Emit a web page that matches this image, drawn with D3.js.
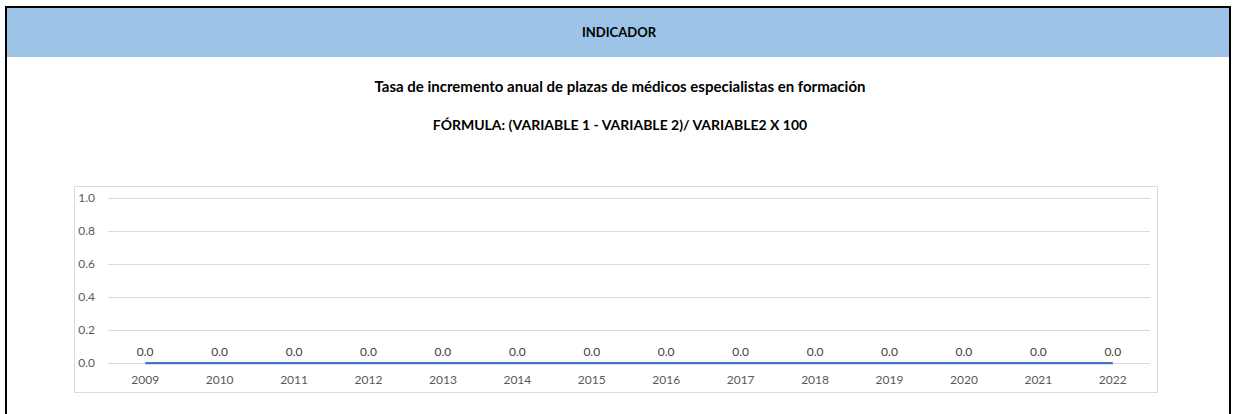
<!DOCTYPE html>
<html>
<head>
<meta charset="utf-8">
<script src="https://cdn.jsdelivr.net/npm/d3@7"></script>
<style>
  body { margin: 0; background: #fff; }
  svg { display: block; font-family: Lato, "Noto Sans", sans-serif; }
</style>
</head>
<body>
<svg id="chart" width="1235" height="414"></svg>
<script>
// chart data
const years = ["2009", "2010", "2011", "2012", "2013", "2014", "2015", "2016", "2017", "2018", "2019", "2020", "2021", "2022"];
const tasa = [0, 0, 0, 0, 0, 0, 0, 0, 0, 0, 0, 0, 0, 0];
const yTicks = [0, 0.2, 0.4, 0.6, 0.8, 1.0];

const headerText = "INDICADOR";
const titleText = "Tasa de incremento anual de plazas de médicos especialistas en formación";
const formulaText = "FÓRMULA: (VARIABLE 1 - VARIABLE 2)/ VARIABLE2 X 100";

const svg = d3.select("#chart");

// outer frame + header band
svg.append("rect")
    .attr("x", 6).attr("y", 7)
    .attr("width", 1224).attr("height", 420)
    .attr("fill", "none")
    .attr("stroke", "#000")
    .attr("stroke-width", 2);

svg.append("rect")
    .attr("x", 7).attr("y", 8)
    .attr("width", 1222).attr("height", 49)
    .attr("fill", "#9dc3e6");

svg.append("text")
    .attr("x", 619).attr("y", 37)
    .attr("text-anchor", "middle")
    .attr("font-size", "13px")
    .attr("font-weight", "bold")
    .attr("fill", "#000")
    .text(headerText);

svg.append("text")
    .attr("x", 620).attr("y", 92)
    .attr("text-anchor", "middle")
    .attr("font-size", "15px")
    .attr("font-weight", "bold")
    .attr("fill", "#000")
    .text(titleText);

svg.append("text")
    .attr("x", 620).attr("y", 130)
    .attr("text-anchor", "middle")
    .attr("font-size", "14px")
    .attr("font-weight", "bold")
    .attr("fill", "#000")
    .text(formulaText);

// chart box
svg.append("rect")
    .attr("x", 74.5).attr("y", 186.5)
    .attr("width", 1083).attr("height", 206)
    .attr("fill", "#fff")
    .attr("stroke", "#d9d9d9")
    .attr("stroke-width", 1);

const plot = { left: 108, right: 1150, top: 198, bottom: 363 };

const x = d3.scaleBand()
    .domain(years)
    .range([plot.left, plot.right]);

const y = d3.scaleLinear()
    .domain([0, 1])
    .range([plot.bottom, plot.top]);

// gridlines via axis
const yAxis = svg.append("g")
    .attr("transform", `translate(${plot.left},0)`)
    .call(d3.axisLeft(y)
        .tickValues(yTicks)
        .tickSize(-(plot.right - plot.left))
        .tickPadding(13)
        .tickFormat(d3.format(".1f")));
yAxis.select(".domain").remove();
yAxis.selectAll("line").attr("stroke", "#d9d9d9");
yAxis.selectAll("text")
    .attr("fill", "#595959")
    .attr("font-size", "12px")
    .attr("font-family", "Lato, 'Noto Sans', sans-serif");

const xAxis = svg.append("g")
    .attr("transform", `translate(0,${plot.bottom})`)
    .call(d3.axisBottom(x).tickSize(0).tickPadding(12));
xAxis.select(".domain").remove();
xAxis.selectAll("text")
    .attr("fill", "#595959")
    .attr("font-size", "12px")
    .attr("font-family", "Lato, 'Noto Sans', sans-serif");

// series line
const line = d3.line()
    .x((d, i) => x(years[i]) + x.bandwidth() / 2)
    .y(d => y(d));

svg.append("path")
    .datum(tasa)
    .attr("d", line)
    .attr("fill", "none")
    .attr("stroke", "#4472c4")
    .attr("stroke-width", 2.25);

// data labels
svg.append("g").selectAll("text")
    .data(tasa)
    .join("text")
    .attr("x", (d, i) => x(years[i]) + x.bandwidth() / 2)
    .attr("y", d => y(d) - 7)
    .attr("text-anchor", "middle")
    .attr("font-size", "12px")
    .attr("fill", "#404040")
    .text(d => d3.format(".1f")(d));
</script>
</body>
</html>
